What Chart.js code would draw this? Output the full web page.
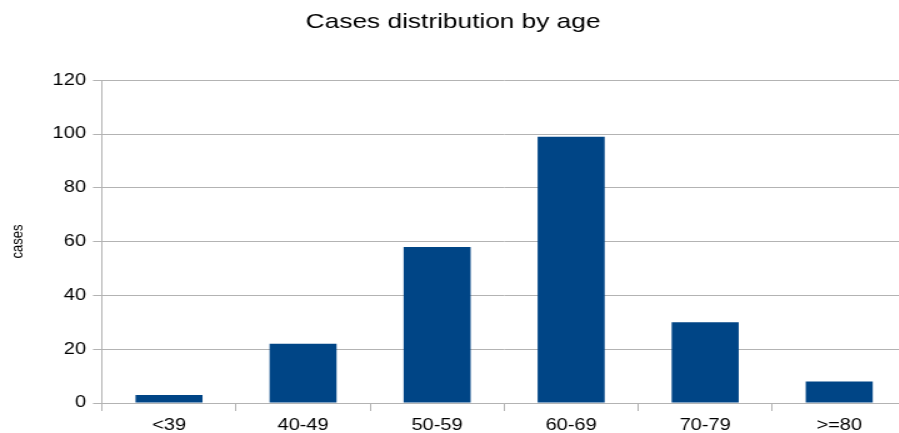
<!DOCTYPE html>
<html>
<head>
<meta charset="utf-8">
<script src="https://cdn.jsdelivr.net/npm/chart.js@4/dist/chart.umd.min.js"></script>
<style>
  html, body { margin: 0; padding: 0; background: #fff; overflow: hidden; }
  #outer { width: 899px; height: 433px; overflow: hidden; }
  #wrap { position: relative; width: 725px; height: 433px; transform: scaleX(1.25); transform-origin: 0 0; }
</style>
</head>
<body>
<div id="outer"><div id="wrap"><canvas id="c"></canvas></div></div>
<script>
const categories = ["<39", "40-49", "50-59", "60-69", "70-79", ">=80"];
const cases = [3, 22, 58, 99, 30, 8];
const yTicks = [0, 20, 40, 60, 80, 100, 120];

const font = "'Liberation Sans', Arial, sans-serif";

new Chart(document.getElementById('c'), {
  type: 'bar',
  data: {
    labels: categories,
    datasets: [{
      label: 'cases',
      data: cases,
      backgroundColor: '#004586',
      borderWidth: 0,
      barPercentage: 0.5,
      categoryPercentage: 1.0
    }]
  },
  options: {
    responsive: true,
    maintainAspectRatio: false,
    animation: false,
    layout: { padding: { left: 0, right: 0, top: 0, bottom: 0 } },
    plugins: {
      legend: { display: false },
      tooltip: { enabled: false },
      title: {
        display: true,
        text: 'Cases distribution by age',
        color: '#000',
        font: { family: font, size: 21, weight: 'normal', lineHeight: 1.2 },
        padding: { top: 10, bottom: 45 }
      }
    },
    scales: {
      x: {
        afterFit: (s) => { s.height = 30; },
        grid: {
          display: true,
          offset: true,
          drawOnChartArea: false,
          drawTicks: true,
          tickLength: 8,
          color: '#b3b3b3'
        },
        border: { display: true, color: '#b3b3b3', width: 1 },
        ticks: {
          color: '#000',
          padding: 7,
          font: { family: font, size: 16, lineHeight: 1.0 }
        }
      },
      y: {
        min: 0,
        max: 120,
        afterFit: (s) => { s.width = 81.6; },
        afterBuildTicks: (s) => { s.ticks = yTicks.map(v => ({ value: v })); },
        grid: {
          color: '#b3b3b3',
          drawTicks: true,
          tickLength: 7.2
        },
        border: { display: true, color: '#b3b3b3', width: 1 },
        ticks: {
          color: '#000',
          padding: 5.6,
          font: { family: font, size: 16 }
        },
        title: {
          display: true,
          text: 'cases',
          color: '#000',
          font: { family: font, size: 13 },
          padding: { top: 7, bottom: 0 }
        }
      }
    }
  }
});
</script>
</body>
</html>
